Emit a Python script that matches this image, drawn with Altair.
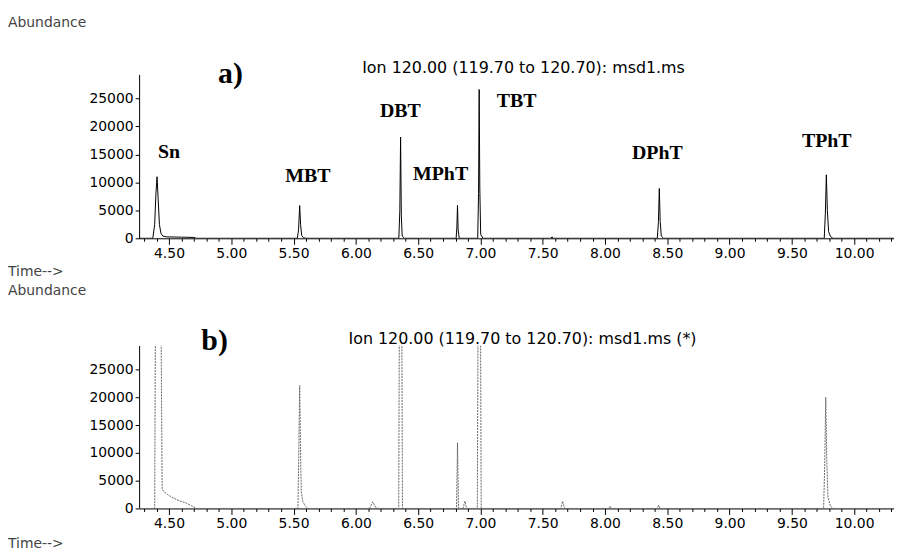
import altair as alt
import pandas as pd

# ---------------- data ----------------
# panel a) chromatogram (time in min, abundance)
a_time = [4.26, 4.37, 4.385, 4.395, 4.404, 4.413, 4.423, 4.435, 4.45, 4.48, 4.60, 4.70, 4.72,
          5.53, 5.540, 5.549, 5.556, 5.565, 5.58, 5.60,
          6.345, 6.353, 6.359, 6.365, 6.372, 6.39,
          6.805, 6.811, 6.816, 6.821, 6.83,
          6.978, 6.985, 6.99, 6.995, 7.002, 7.02,
          7.565, 7.575, 7.585,
          8.42, 8.429, 8.436, 8.443, 8.452, 8.47,
          9.76, 9.769, 9.777, 9.785, 9.795, 9.81, 9.83,
          10.32]
a_abund = [0, 0, 2500, 8000, 11000, 7000, 2500, 900, 400, 250, 200, 150, 0,
           0, 1500, 5850, 2500, 500, 100, 0,
           0, 5000, 18100, 4000, 400, 0,
           0, 2000, 5900, 1500, 0,
           0, 8000, 26600, 9000, 700, 0,
           0, 250, 0,
           0, 3000, 8900, 3000, 400, 0,
           0, 4500, 11350, 5000, 1200, 300, 0,
           0]

# panel b) chromatogram
b_time = [4.26, 4.385, 4.392, 4.434, 4.445, 4.46, 4.49, 4.524, 4.58, 4.635, 4.68, 4.72,
          5.535, 5.543, 5.549, 5.556, 5.562, 5.575, 5.595, 5.615,
          6.11, 6.135, 6.16, 6.18,
          6.344, 6.35, 6.368, 6.374,
          6.808, 6.816, 6.824,
          6.86, 6.875, 6.89,
          6.975, 6.982, 7.0, 7.006,
          7.645, 7.66, 7.675,
          8.03, 8.04, 8.05,
          8.42, 8.43, 8.44,
          9.755, 9.764, 9.772, 9.78, 9.79, 9.81, 9.83,
          10.32]
b_abund = [0, 0, 40000, 40000, 3500, 3000, 2500, 2000, 1400, 1000, 500, 0,
           0, 12000, 22100, 10000, 3000, 1200, 400, 0,
           0, 1200, 200, 0,
           0, 40000, 40000, 0,
           0, 11800, 0,
           0, 1300, 0,
           0, 40000, 40000, 0,
           0, 1300, 0,
           0, 400, 0,
           0, 600, 0,
           0, 8000, 20000, 9000, 2000, 400, 0,
           0]

# peak labels of panel a)
peak_names = ["Sn", "MBT", "DBT", "MPhT", "TBT", "DPhT", "TPhT"]
peak_label_time = [4.50, 5.615, 6.357, 6.68, 7.29, 8.42, 9.78]
peak_label_abund = [15400, 11170, 22700, 11440, 24470, 15160, 17460]

# axes
x_domain = [4.26, 10.32]
y_domain = [0, 29300]
x_ticks = [round(4.3 + 0.1 * i, 1) for i in range(61)]
y_ticks = [0, 5000, 10000, 15000, 20000, 25000]

title_a = "Ion 120.00 (119.70 to 120.70): msd1.ms"
title_b = "Ion 120.00 (119.70 to 120.70): msd1.ms (*)"

# ---------------- chart ----------------
W, H = 760, 165
MAJOR = "abs(datum.value*2 - round(datum.value*2)) < 0.01"

xscale = alt.Scale(domain=x_domain, nice=False, zero=False)
yscale = alt.Scale(domain=y_domain, nice=False)
xaxis = alt.Axis(values=x_ticks, title=None, labelOverlap=False, labelFlush=False,
                 labelExpr=MAJOR + " ? format(datum.value, '.2f') : ''",
                 tickSize={"condition": {"test": MAJOR, "value": 6}, "value": 3},
                 labelPadding=2)
yaxis = alt.Axis(values=y_ticks, format="d", title=None, tickSize=4, labelPadding=2,
                 labelOverlap=False)


def txt(s, x, y, size, font="DejaVu Sans", weight="normal", align="left", color="black"):
    return alt.Chart(pd.DataFrame({"s": [s]})).mark_text(
        align=align, baseline="middle", font=font, fontSize=size, fontWeight=weight,
        color=color
    ).encode(x=alt.value(x), y=alt.value(y), text="s:N")


df_a = pd.DataFrame({"t": a_time, "a": a_abund})
df_b = pd.DataFrame({"t": b_time, "a": b_abund})
df_lab = pd.DataFrame({"name": peak_names, "t": peak_label_time, "a": peak_label_abund})

line_a = alt.Chart(df_a).mark_line(color="black", strokeWidth=1, clip=True).encode(
    x=alt.X("t:Q", scale=xscale, axis=xaxis),
    y=alt.Y("a:Q", scale=yscale, axis=yaxis),
    order="t:Q",
)
labels_a = alt.Chart(df_lab).mark_text(
    font="Liberation Serif", fontWeight="bold", fontSize=20, color="black"
).encode(x=alt.X("t:Q", scale=xscale, axis=xaxis),
         y=alt.Y("a:Q", scale=yscale, axis=yaxis), text="name:N")

panel_a = alt.layer(
    line_a, labels_a,
    txt("Abundance", -132, -52, 14, color="#444"),
    txt("a)", 92, 0, 30, font="Liberation Serif", weight="bold", align="center"),
    txt(title_a, 387, -6, 16, align="center"),
    txt("Time-->", -132, 199, 14, color="#444"),
).properties(width=W, height=H)

line_b = alt.Chart(df_b).mark_line(color="#666", strokeWidth=1, strokeDash=[2, 1],
                                   clip=True).encode(
    x=alt.X("t:Q", scale=xscale, axis=xaxis),
    y=alt.Y("a:Q", scale=yscale, axis=yaxis),
    order="t:Q",
)
panel_b = alt.layer(
    line_b,
    txt("Abundance", -132, -55, 14, color="#444"),
    txt("b)", 76, -5, 30, font="Liberation Serif", weight="bold", align="center"),
    txt(title_b, 386, -7, 16, align="center"),
    txt("Time-->", -132, 200, 14, color="#444"),
).properties(width=W, height=164)

chart = alt.vconcat(panel_a, panel_b, spacing=5).properties(
    padding={"left": 0, "top": 6, "right": 0, "bottom": 0}
).configure_view(stroke=None).configure_axis(
    labelFont="DejaVu Sans", labelFontSize=14, labelColor="black",
    domainColor="black", tickColor="black", grid=False
)

chart.save("out.html", embed_options={"renderer": "svg", "actions": False})
